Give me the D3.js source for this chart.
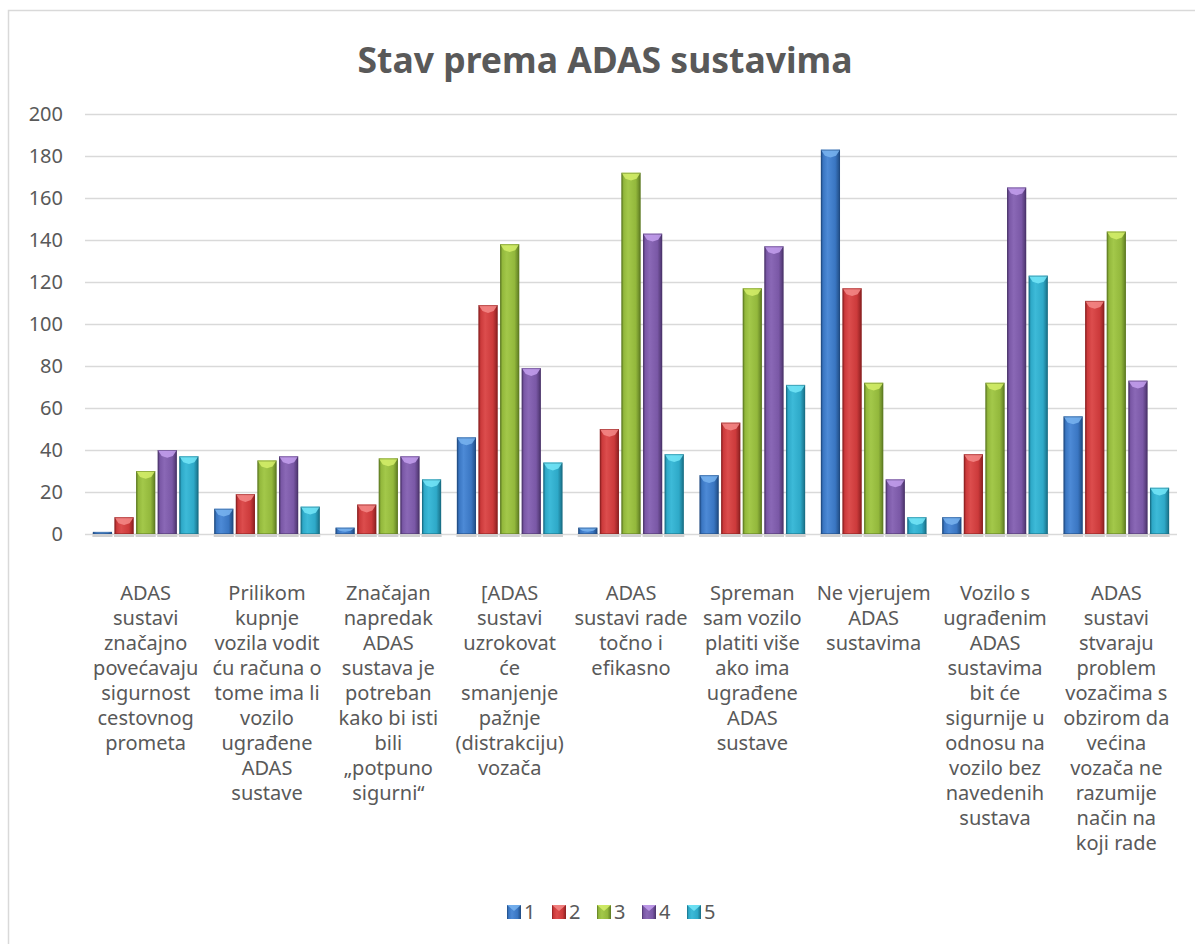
<!DOCTYPE html>
<html>
<head>
<meta charset="utf-8">
<script src="https://cdn.jsdelivr.net/npm/d3@7"></script>
<style>
  body { margin: 0; background: #fff; }
  svg text { font-family: "Noto Sans", "Open Sans", sans-serif; fill: #595959; }
</style>
</head>
<body>
<svg id="chart" width="1195" height="944"></svg>
<script>
// categories (line breaks as in the picture)
var categories = [
  'ADAS\nsustavi\nznačajno\npovećavaju\nsigurnost\ncestovnog\nprometa',
  'Prilikom\nkupnje\nvozila vodit\nću računa o\ntome ima li\nvozilo\nugrađene\nADAS\nsustave',
  'Značajan\nnapredak\nADAS\nsustava je\npotreban\nkako bi isti\nbili\n„potpuno\nsigurni“',
  '[ADAS\nsustavi\nuzrokovat\nće\nsmanjenje\npažnje\n(distrakciju)\nvozača',
  'ADAS\nsustavi rade\ntočno i\nefikasno',
  'Spreman\nsam vozilo\nplatiti više\nako ima\nugrađene\nADAS\nsustave',
  'Ne vjerujem\nADAS\nsustavima',
  'Vozilo s\nugrađenim\nADAS\nsustavima\nbit će\nsigurnije u\nodnosu na\nvozilo bez\nnavedenih\nsustava',
  'ADAS\nsustavi\nstvaraju\nproblem\nvozačima s\nobzirom da\nvećina\nvozača ne\nrazumije\nnačin na\nkoji rade'
];
var seriesNames = ['1', '2', '3', '4', '5'];
var s1 = [1, 12, 3, 46, 3, 28, 183, 8, 56];
var s2 = [8, 19, 14, 109, 50, 53, 117, 38, 111];
var s3 = [30, 35, 36, 138, 172, 117, 72, 72, 144];
var s4 = [40, 37, 37, 79, 143, 137, 26, 165, 73];
var s5 = [37, 13, 26, 34, 38, 71, 8, 123, 22];
var yTicks = [0, 20, 40, 60, 80, 100, 120, 140, 160, 180, 200];

var seriesValues = [s1, s2, s3, s4, s5];
// base, dark edge, light highlight, bevel
var colors = [
  { base: '#3a76c2', dark: '#1f4a80', light: '#4d8ad6', bevel: '#79b4f0' },
  { base: '#cc3a3b', dark: '#8a1f20', light: '#dc4d4d', bevel: '#f58a88' },
  { base: '#93b83c', dark: '#5d7a22', light: '#a3c84a', bevel: '#d5ee6a' },
  { base: '#7a58a6', dark: '#4a336a', light: '#8a68b6', bevel: '#c4a0ee' },
  { base: '#2ea9c8', dark: '#186d84', light: '#3dbad8', bevel: '#74e6f8' }
];

var svg = d3.select('#chart');
var defs = svg.append('defs');

colors.forEach(function(c, i) {
  var g = defs.append('linearGradient')
    .attr('id', 'grad' + i)
    .attr('x1', '0').attr('x2', '1').attr('y1', '0').attr('y2', '0');
  g.append('stop').attr('offset', '0').attr('stop-color', c.dark);
  g.append('stop').attr('offset', '0.12').attr('stop-color', c.base);
  g.append('stop').attr('offset', '0.35').attr('stop-color', c.light);
  g.append('stop').attr('offset', '0.75').attr('stop-color', c.base);
  g.append('stop').attr('offset', '1').attr('stop-color', c.dark);
});

// chart border
svg.append('rect')
  .attr('x', 8.5).attr('y', 10.5)
  .attr('width', 1400).attr('height', 1200)
  .style('fill', 'none')
  .style('stroke', '#d9d9d9')
  .style('stroke-width', 1.5);

// title
svg.append('text')
  .attr('x', 605).attr('y', 73)
  .attr('text-anchor', 'middle')
  .style('font-size', '35.5px')
  .style('font-weight', 'bold')
  .text('Stav prema ADAS sustavima');

var x0 = d3.scaleBand().domain(d3.range(categories.length))
  .range([85, 1177]).paddingInner(0.13).paddingOuter(0.065);
var x1 = d3.scaleBand().domain(d3.range(seriesNames.length))
  .range([0, x0.bandwidth()]).paddingInner(0.115);
var y = d3.scaleLinear().domain([0, 200]).range([534, 114]);

// gridlines + y labels
var yAxis = d3.axisLeft(y).tickValues(yTicks).tickSize(-(1177 - 85)).tickPadding(22);
var gy = svg.append('g').attr('transform', 'translate(85,0)').call(yAxis);
gy.select('.domain').remove();
gy.selectAll('.tick line').style('stroke', '#d9d9d9').style('stroke-width', 1.5);
gy.selectAll('.tick text')
  .style('font-size', '20px')
  .style('font-family', '"Noto Sans", sans-serif')
  .style('fill', '#595959');

// bars
var groups = svg.selectAll('g.group')
  .data(categories.map(function(c, i) { return i; }))
  .enter().append('g')
  .attr('class', 'group')
  .attr('transform', function(i) { return 'translate(' + x0(i) + ',0)'; });

var bars = groups.selectAll('g.bar')
  .data(function(ci) {
    return seriesValues.map(function(vals, si) { return { s: si, v: vals[ci] }; });
  })
  .enter().append('g').attr('class', 'bar');

var bw = x1.bandwidth();

// faint shadow at the base
bars.append('rect')
  .attr('x', function(d) { return x1(d.s) - 0.5; })
  .attr('y', y(0) - 1)
  .attr('width', bw + 1)
  .attr('height', 4)
  .style('fill', '#d0d0d0');

bars.append('rect')
  .attr('x', function(d) { return x1(d.s); })
  .attr('y', function(d) { return y(d.v); })
  .attr('width', bw)
  .attr('height', function(d) { return y(0) - y(d.v); })
  .style('fill', function(d) { return 'url(#grad' + d.s + ')'; });

bars.append('path')
  .attr('d', function(d) {
    var x = x1(d.s), top = y(d.v), h = Math.min(6, (y(0) - top) / 2);
    return 'M' + x + ',' + top + 'L' + (x + bw) + ',' + top +
      'L' + (x + bw - 4) + ',' + (top + h) + 'L' + (x + bw / 2) + ',' + (top + h * 1.3) +
      'L' + (x + 4) + ',' + (top + h) + 'Z';
  })
  .style('fill', function(d) { return colors[d.s].bevel; })
  .style('opacity', 0.85);

bars.append('rect')
  .attr('x', function(d) { return x1(d.s) + 0.5; })
  .attr('y', function(d) { return y(d.v) + 0.5; })
  .attr('width', bw - 1)
  .attr('height', function(d) { return Math.max(0, y(0) - y(d.v) - 1); })
  .style('fill', 'none')
  .style('stroke', function(d) { return colors[d.s].dark; })
  .style('stroke-opacity', 0.5)
  .style('stroke-width', 1);

// category labels
var catLabels = svg.selectAll('text.cat')
  .data(categories)
  .enter().append('text')
  .attr('class', 'cat')
  .attr('text-anchor', 'middle')
  .style('font-size', '20px');

catLabels.each(function(c, i) {
  var t = d3.select(this);
  c.split('\n').forEach(function(line, k) {
    t.append('tspan')
      .attr('x', x0(i) + x0.bandwidth() / 2)
      .attr('y', 600 + k * 25)
      .text(line);
  });
});

// legend
var legendX = d3.scalePoint().domain(seriesNames).range([507, 687]);
var leg = svg.selectAll('g.legend')
  .data(seriesNames)
  .enter().append('g')
  .attr('class', 'legend')
  .attr('transform', function(d) { return 'translate(' + legendX(d) + ',905)'; });

leg.append('rect')
  .attr('width', 14).attr('height', 14)
  .style('fill', function(d, i) { return 'url(#grad' + i + ')'; });
leg.append('path')
  .attr('d', 'M0,0L14,0L7,6Z')
  .style('fill', function(d, i) { return colors[i].bevel; })
  .style('opacity', 0.85);
leg.append('text')
  .attr('x', 17).attr('y', 14)
  .style('font-size', '20px')
  .text(function(d) { return d; });
</script>
</body>
</html>
